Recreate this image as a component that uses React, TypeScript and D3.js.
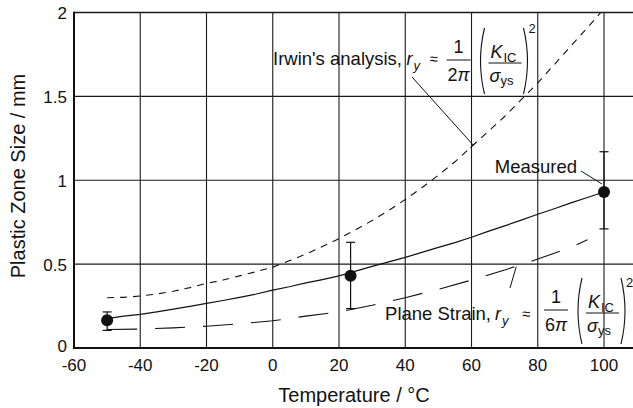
import React from "react";
import * as d3 from "d3";

// ---------- data ----------
const xTicks = [-60, -40, -20, 0, 20, 40, 60, 80, 100];
const yTicks = [0, 0.5, 1, 1.5, 2];
const yTickLabels = ["0", "0.5", "1", "1.5", "2"];

// measured points with error bars
const measuredT = [-50, 23.5, 100];
const measuredV = [0.165, 0.43, 0.93];
const measuredLow = [0.105, 0.235, 0.71];
const measuredHigh = [0.215, 0.63, 1.17];

// solid (measured trend) line
const solidT = [-50, -45, -40, -35, -30, -25, -20, -15, -10, -5, 0, 5, 10, 15, 20, 25, 30, 35, 40, 45, 50, 55, 60, 65, 70, 75, 80, 85, 90, 95, 100];
const solidV = [0.175, 0.19, 0.2, 0.215, 0.232, 0.248, 0.266, 0.283, 0.302, 0.322, 0.345, 0.365, 0.388, 0.408, 0.43, 0.458, 0.487, 0.513, 0.54, 0.57, 0.6, 0.628, 0.66, 0.695, 0.728, 0.762, 0.797, 0.83, 0.865, 0.897, 0.93];

// Irwin's analysis (short dashes)
const irwinT = [-50, -45, -40, -35, -30, -25, -20, -15, -10, -5, 0, 5, 10, 15, 20, 25, 30, 35, 40, 45, 50, 55, 60, 65, 70, 75, 80, 85, 90, 95, 99];
const irwinV = [0.3, 0.302, 0.31, 0.322, 0.338, 0.36, 0.385, 0.405, 0.43, 0.455, 0.482, 0.52, 0.56, 0.605, 0.652, 0.705, 0.76, 0.82, 0.885, 0.955, 1.03, 1.11, 1.2, 1.29, 1.38, 1.48, 1.58, 1.69, 1.8, 1.91, 2.0];

// Plane strain (long dashes)
const planeT = [-50, -40, -30, -20, -10, 0, 10, 20, 30, 40, 50, 60, 70, 80, 90, 95];
const planeV = [0.11, 0.113, 0.12, 0.13, 0.145, 0.162, 0.19, 0.215, 0.255, 0.3, 0.35, 0.405, 0.465, 0.53, 0.6, 0.645];

// ---------- layout ----------
const W = 633;
const H = 408;
const left = 74;
const right = 633;
const top = 12.5;
const bottom = 348;
const FONT = "'Liberation Sans', Arial, Helvetica, sans-serif";

const x = d3.scaleLinear().domain([-60, 108.75]).range([left, right]);
const y = d3.scaleLinear().domain([0, 2]).range([bottom, top]);

const lineGen = d3
  .line<[number, number]>()
  .x((d) => x(d[0]))
  .y((d) => y(d[1]));

const zip = (a: number[], b: number[]) => a.map((v, i) => [v, b[i]] as [number, number]);

function Paren({ cx, y1, y2, dir }: { cx: number; y1: number; y2: number; dir: number }) {
  const bulge = 5 * dir;
  const path = `M${cx + bulge * 0.6},${y1} Q${cx - bulge},${(y1 + y2) / 2} ${cx + bulge * 0.6},${y2}`;
  return <path d={path} fill="none" stroke="#111" strokeWidth={1.1} />;
}

function Formula({
  x0,
  b,
  denom,
  approxDx,
  fracDx,
  barDy,
  supDy,
}: {
  x0: number;
  b: number;
  denom: string;
  approxDx: number;
  fracDx: number;
  barDy: number;
  supDy: number;
}) {
  const bar = b + barDy;
  const cx1 = x0 + fracDx;
  const p = cx1 + 23;
  const kbar = bar + 3;
  return (
    <g fontFamily={FONT} fill="#111">
      <text x={x0} y={b} fontSize={18} fontStyle="italic">r</text>
      <text x={x0 + 7} y={b + 5} fontSize={13} fontStyle="italic">y</text>
      <text x={x0 + approxDx} y={b - 1} fontSize={15}>≈</text>
      <text x={cx1} y={bar - 7} fontSize={18} textAnchor="middle">1</text>
      <line x1={cx1 - 12} x2={cx1 + 12} y1={bar} y2={bar} stroke="#111" strokeWidth={1} />
      <text x={cx1} y={bar + 21} fontSize={18} textAnchor="middle">
        {denom}
        <tspan fontStyle="italic">π</tspan>
      </text>
      <Paren cx={p} y1={bar - 32} y2={bar + 34} dir={1} />
      <text x={p + 9} y={kbar - 5} fontSize={18} fontStyle="italic">K</text>
      <text x={p + 22} y={kbar - 1} fontSize={13}>IC</text>
      <line x1={p + 7} x2={p + 40} y1={kbar} y2={kbar} stroke="#111" strokeWidth={1} />
      <text x={p + 8} y={kbar + 19} fontSize={18} fontStyle="italic">σ</text>
      <text x={p + 19} y={kbar + 22} fontSize={13}>ys</text>
      <Paren cx={p + 45} y1={bar - 32} y2={bar + 34} dir={-1} />
      <text x={p + 47} y={bar + supDy} fontSize={13}>2</text>
    </g>
  );
}

export default function App() {
  const solid = lineGen(zip(solidT, solidV)) || "";
  const irwin = lineGen(zip(irwinT, irwinV)) || "";
  const plane = lineGen(zip(planeT, planeV)) || "";

  // leader endpoints on the curves
  const irwinEnd: [number, number] = [x(60.5), y(1.21)];
  const irwinStart: [number, number] = [412, 77];
  const ang = Math.atan2(irwinEnd[1] - irwinStart[1], irwinEnd[0] - irwinStart[0]);
  const px = Math.cos(ang + Math.PI / 2) * 4;
  const py = Math.sin(ang + Math.PI / 2) * 4;

  const planeEnd: [number, number] = [x(73.5), y(0.485)];
  const measEnd: [number, number] = [x(100) - 2, y(0.93) - 8];

  return (
    <div style={{ position: "absolute", left: 0, top: 0 }}>
      <svg width={W} height={H} style={{ display: "block", background: "#fff" }}>
        {/* grid */}
        {yTicks.slice(1).map((t) => (
          <line key={"gy" + t} x1={left} x2={right} y1={y(t)} y2={y(t)} stroke="#1a1a1a" strokeWidth={t === 2 ? 1.6 : 1.1} />
        ))}
        {xTicks.slice(1).map((t) => (
          <line key={"gx" + t} x1={x(t)} x2={x(t)} y1={top} y2={bottom} stroke="#1a1a1a" strokeWidth={1.1} />
        ))}
        {/* axes */}
        <line x1={left} x2={left} y1={top - 0.8} y2={bottom + 1} stroke="#111" strokeWidth={2} />
        <line x1={left - 1} x2={right} y1={bottom} y2={bottom} stroke="#111" strokeWidth={2} />

        {/* tick labels */}
        <g fontFamily={FONT} fontSize={17} fill="#111">
          {yTicks.map((t, i) => (
            <text
              key={"yl" + t}
              x={left - 7}
              y={t === 0 ? y(t) + 4 : y(t) + 1}
              dy={t === 0 ? 0 : "0.35em"}
              textAnchor="end"
            >
              {yTickLabels[i]}
            </text>
          ))}
          {xTicks.map((t) => (
            <text key={"xl" + t} x={x(t)} y={bottom + 23} textAnchor="middle">
              {t}
            </text>
          ))}
        </g>

        {/* axis titles */}
        <text x={354} y={402} fontFamily={FONT} fontSize={20} fill="#111" textAnchor="middle">
          Temperature / °C
        </text>
        <text
          transform={`translate(24.5,176) rotate(-90)`}
          fontFamily={FONT}
          fontSize={20}
          fill="#111"
          textAnchor="middle"
        >
          Plastic Zone Size / mm
        </text>

        {/* curves */}
        <path d={irwin} fill="none" stroke="#111" strokeWidth={1.1} strokeDasharray="7,6" />
        <path d={plane} fill="none" stroke="#111" strokeWidth={1.1} strokeDasharray="30,18" />
        <path d={solid} fill="none" stroke="#111" strokeWidth={1.2} />

        {/* error bars and points */}
        {measuredT.map((t, i) => (
          <g key={"m" + t} stroke="#111" strokeWidth={1.2}>
            <line x1={x(t)} x2={x(t)} y1={y(measuredLow[i])} y2={y(measuredHigh[i])} />
            <line x1={x(t) - 4.5} x2={x(t) + 4.5} y1={y(measuredLow[i])} y2={y(measuredLow[i])} />
            <line x1={x(t) - 4.5} x2={x(t) + 4.5} y1={y(measuredHigh[i])} y2={y(measuredHigh[i])} />
            <circle cx={x(t)} cy={y(measuredV[i])} r={6} fill="#111" stroke="none" />
          </g>
        ))}

        {/* Irwin annotation */}
        <text x={402} y={65} fontFamily={FONT} fontSize={18.5} fill="#111" textAnchor="end">
          Irwin's analysis,
        </text>
        <Formula x0={406.5} b={65} denom="2" approxDx={23} fracDx={52} barDy={-5} supDy={-27} />
        <line x1={irwinStart[0]} y1={irwinStart[1]} x2={irwinEnd[0]} y2={irwinEnd[1]} stroke="#111" strokeWidth={1} />
        <line x1={irwinEnd[0] - px} y1={irwinEnd[1] - py} x2={irwinEnd[0] + px} y2={irwinEnd[1] + py} stroke="#111" strokeWidth={1} />

        {/* Plane strain annotation */}
        <text x={491} y={320} fontFamily={FONT} fontSize={18.5} fill="#111" textAnchor="end">
          Plane Strain,
        </text>
        <Formula x0={495} b={320} denom="6" approxDx={27} fracDx={61} barDy={-10} supDy={-23} />
        <line x1={510} y1={288} x2={planeEnd[0]} y2={planeEnd[1]} stroke="#111" strokeWidth={1} />

        {/* Measured annotation */}
        <text x={577} y={173} fontFamily={FONT} fontSize={18.5} fill="#111" textAnchor="end">
          Measured
        </text>
        <line x1={581} y1={171} x2={measEnd[0]} y2={measEnd[1]} stroke="#111" strokeWidth={1} />
      </svg>
    </div>
  );
}
